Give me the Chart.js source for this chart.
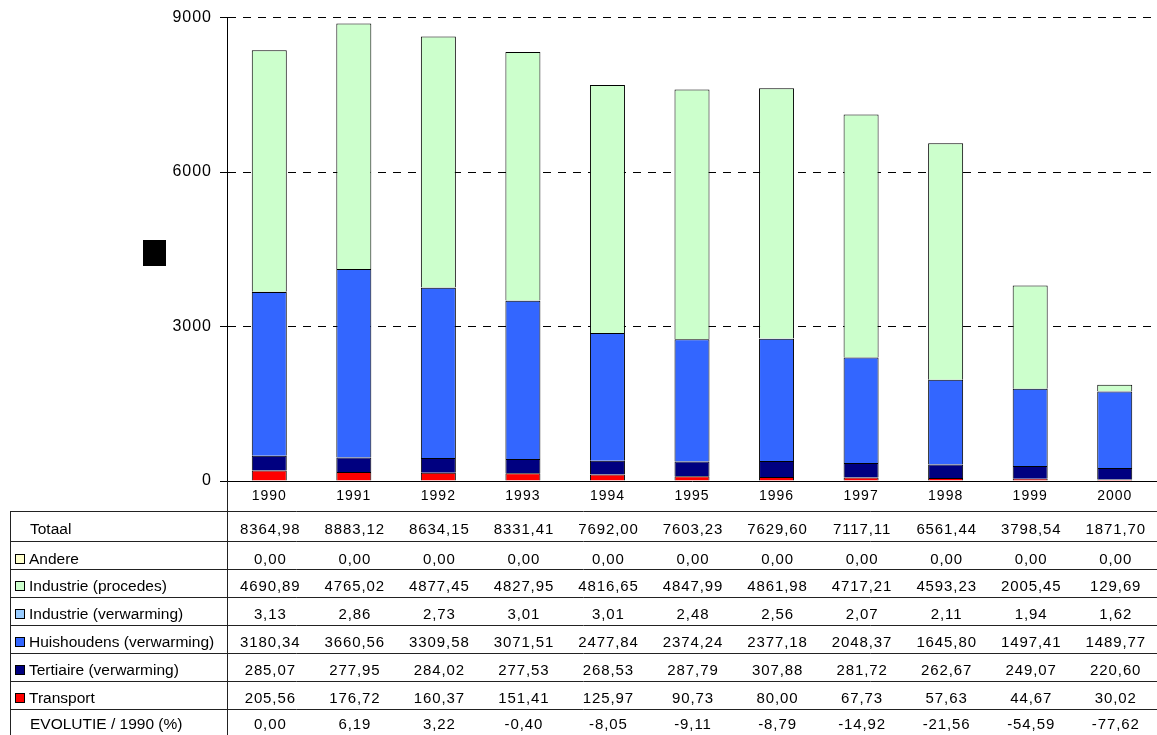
<!DOCTYPE html>
<html>
<head>
<meta charset="utf-8">
<script src="https://cdn.jsdelivr.net/npm/chart.js@4.4.0/dist/chart.umd.min.js"></script>
<style>
  html, body { margin: 0; padding: 0; background: #fff; }
  #wrap { width: 1157px; height: 735px; position: relative; }
</style>
</head>
<body>
<div id="wrap"><canvas id="c"></canvas></div>
<script>
// Years on the category axis
const years = ['1990', '1991', '1992', '1993', '1994', '1995', '1996', '1997', '1998', '1999', '2000'];

// Emissions per sector
const totaal              = [8364.98, 8883.12, 8634.15, 8331.41, 7692.00, 7603.23, 7629.60, 7117.11, 6561.44, 3798.54, 1871.70];
const andere              = [0, 0, 0, 0, 0, 0, 0, 0, 0, 0, 0];
const industrieProcedes   = [4690.89, 4765.02, 4877.45, 4827.95, 4816.65, 4847.99, 4861.98, 4717.21, 4593.23, 2005.45, 129.69];
const industrieVerwarming = [3.13, 2.86, 2.73, 3.01, 3.01, 2.48, 2.56, 2.07, 2.11, 1.94, 1.62];
const huishoudens         = [3180.34, 3660.56, 3309.58, 3071.51, 2477.84, 2374.24, 2377.18, 2048.37, 1645.80, 1497.41, 1489.77];
const tertiaire           = [285.07, 277.95, 284.02, 277.53, 268.53, 287.79, 307.88, 281.72, 262.67, 249.07, 220.60];
const transport           = [205.56, 176.72, 160.37, 151.41, 125.97, 90.73, 80.00, 67.73, 57.63, 44.67, 30.02];
const evolutie            = [0.00, 6.19, 3.22, -0.40, -8.05, -9.11, -8.79, -14.92, -21.56, -54.59, -77.62];

// Y axis ticks
const yTicks = [0, 3000, 6000, 9000];

const FONT = "'Liberation Sans', Arial, sans-serif";
const fmt = v => v.toFixed(2).replace('.', ',');

const COLORS = {
  andere: '#FFFFCC',
  procedes: '#CCFFCC',
  indVerw: '#99CCFF',
  huis: '#3366FF',
  tert: '#000080',
  transport: '#FF0000'
};

// Stack from bottom to top
const datasets = [
  { label: 'Transport', data: transport, backgroundColor: COLORS.transport },
  { label: 'Tertiaire (verwarming)', data: tertiaire, backgroundColor: COLORS.tert },
  { label: 'Huishoudens (verwarming)', data: huishoudens, backgroundColor: COLORS.huis },
  { label: 'Industrie (verwarming)', data: industrieVerwarming, backgroundColor: COLORS.indVerw },
  { label: 'Industrie (procedes)', data: industrieProcedes, backgroundColor: COLORS.procedes },
  { label: 'Andere', data: andere, backgroundColor: COLORS.andere }
].map(d => Object.assign(d, {
  borderColor: '#000',
  borderWidth: 1,
  categoryPercentage: 1,
  barPercentage: 0.414
}));

// Rows of the data table below the plot
const tableRows = [
  { label: 'Totaal', values: totaal, swatch: null },
  { label: 'Andere', values: andere, swatch: COLORS.andere },
  { label: 'Industrie (procedes)', values: industrieProcedes, swatch: COLORS.procedes },
  { label: 'Industrie (verwarming)', values: industrieVerwarming, swatch: COLORS.indVerw },
  { label: 'Huishoudens (verwarming)', values: huishoudens, swatch: COLORS.huis },
  { label: 'Tertiaire (verwarming)', values: tertiaire, swatch: COLORS.tert },
  { label: 'Transport', values: transport, swatch: COLORS.transport },
  { label: 'EVOLUTIE / 1990 (%)', values: evolutie, swatch: null }
];

const spacingPlugin = {
  id: 'spacing',
  beforeDraw(chart) {
    chart.ctx.letterSpacing = '1px';
  }
};

const tablePlugin = {
  id: 'dataTable',
  afterDraw(chart) {
    const { ctx, chartArea, scales: { x } } = chart;
    const W = chart.width, H = chart.height;
    const rowLines = [511, 541, 569, 597, 625, 653, 681, 709];
    const baselines = [534, 564, 591, 619, 647, 675, 703, 729];
    const axisX = Math.round(chartArea.left - 0.5) + 0.5;

    ctx.save();
    ctx.strokeStyle = '#222';
    ctx.lineWidth = 1;
    ctx.setLineDash([]);
    ctx.beginPath();
    rowLines.forEach(y => { ctx.moveTo(10, y + 0.5); ctx.lineTo(W, y + 0.5); });
    ctx.moveTo(10.5, 511); ctx.lineTo(10.5, H);
    ctx.moveTo(axisX, chartArea.bottom); ctx.lineTo(axisX, H);
    ctx.stroke();

    ctx.fillStyle = '#000';
    tableRows.forEach((row, r) => {
      const by = baselines[r];
      ctx.font = '15.5px ' + FONT;
      ctx.letterSpacing = '0px';
      ctx.textAlign = 'left';
      ctx.textBaseline = 'alphabetic';
      if (row.swatch) {
        ctx.fillStyle = row.swatch;
        ctx.fillRect(15.5, by - 9.5, 9, 9);
        ctx.strokeStyle = '#000';
        ctx.strokeRect(15.5, by - 9.5, 9, 9);
        ctx.fillStyle = '#000';
        ctx.fillText(row.label, 29, by);
      } else {
        ctx.fillText(row.label, 30, by);
      }
      ctx.font = '15px ' + FONT;
      ctx.letterSpacing = '0.9px';
      ctx.textAlign = 'center';
      row.values.forEach((v, i) => {
        ctx.fillText(fmt(v), x.getPixelForValue(i) + 1, by);
      });
    });

    // y-axis title glyph
    ctx.fillStyle = '#000';
    ctx.fillRect(143, 240, 23, 26);
    ctx.restore();
  }
};

new Chart(document.getElementById('c'), {
  type: 'bar',
  data: { labels: years, datasets },
  plugins: [spacingPlugin, tablePlugin],
  options: {
    responsive: true,
    maintainAspectRatio: false,
    animation: false,
    events: [],
    layout: { padding: { top: 16, left: 0, right: 0, bottom: 0 } },
    plugins: { legend: { display: false }, tooltip: { enabled: false } },
    scales: {
      x: {
        stacked: true,
        grid: { display: false, drawTicks: false },
        border: { display: true, color: '#000', width: 1 },
        ticks: { color: '#000', font: { family: FONT, size: 14 }, padding: 7, maxRotation: 0 },
        afterFit(scale) { scale.height = 254; }
      },
      y: {
        stacked: true,
        min: 0,
        max: 9000,
        afterBuildTicks(scale) { scale.ticks = yTicks.map(v => ({ value: v })); },
        grid: {
          color: c => (c.tick && c.tick.value === 0) ? 'rgba(0,0,0,0)' : '#000',
          tickColor: '#000',
          tickLength: 7,
          lineWidth: 1
        },
        border: { display: true, color: '#000', width: 1, dash: [8, 7] },
        ticks: { color: '#000', font: { family: FONT, size: 16 }, padding: 8, callback: v => String(v) },
        afterFit(scale) { scale.width = 227; }
      }
    }
  }
});
</script>
</body>
</html>
